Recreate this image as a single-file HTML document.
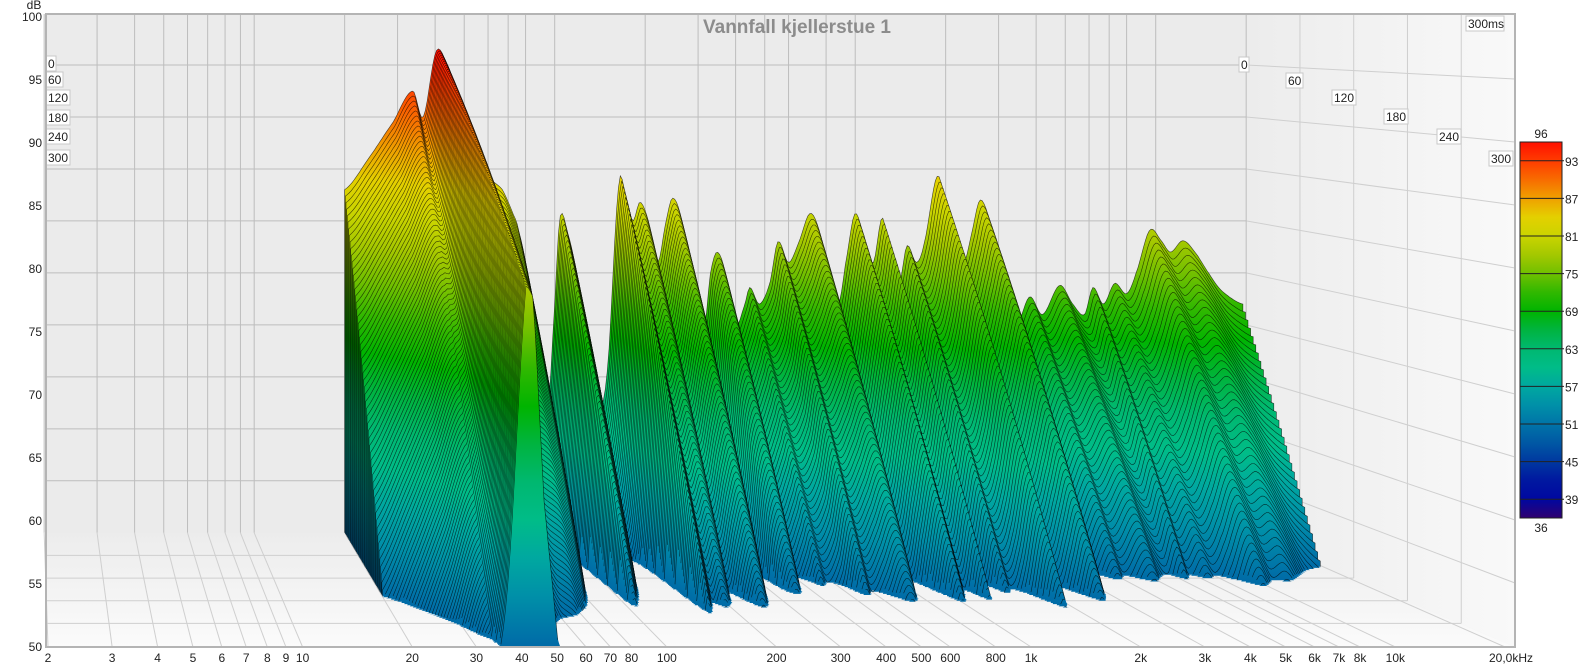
<!DOCTYPE html>
<html><head><meta charset="utf-8"><title>Vannfall kjellerstue 1</title>
<style>
html,body{margin:0;padding:0;background:#fff;}
svg{display:block;font-family:"Liberation Sans",Arial,sans-serif;}
</style></head>
<body>
<svg id="chart" width="1596" height="666" viewBox="0 0 1596 666" xmlns="http://www.w3.org/2000/svg">
<defs>
<linearGradient id="floorGrad" x1="0" y1="0" x2="0" y2="1"><stop offset="0" stop-color="#ececec"/><stop offset="1" stop-color="#fbfbfb"/></linearGradient>
<linearGradient id="sideGrad" x1="0" y1="0" x2="1" y2="0"><stop offset="0" stop-color="#ececec"/><stop offset="1" stop-color="#f9f9f9"/></linearGradient>
<linearGradient id="cbGrad" x1="0" y1="0" x2="0" y2="1"></linearGradient>
</defs>
<g id="bg"></g>
<g id="grid"></g>
<g id="slices"></g>
<g id="labels"></g>
<g id="cbar"></g>
<text x="797" y="33" text-anchor="middle" font-size="19" font-weight="bold" fill="#8c8c8c">Vannfall kjellerstue 1</text>
</svg>
<script>
// ---- data ----
const respFreqs = [20,24,29,33.7,36.5,40.3,44,47,52,55.6,61,67,72,76,82,88,95,100,104,110,120,130,140,150,163,172,182,192,205,220,235,247,265,290,315,330,347,370,400,430,446,480,520,553,600,650,706,760,820,880,930,998,1080,1150,1228,1300,1400,1486,1600,1700,1868,1990,2150,2300,2450,2600,2800,3100,3400,3810,4200,4790,5300,5800,6180,6700,7300,8000,8600,9550,10500,11200,12300,13500,15000,16300,18000,19500];
const respLevels = [83,86,89.5,92.5,90,96.3,95,92.5,88,85,84,83,81,79,74,66,62,72,80.3,79,74,67,62,66,83.2,82.5,80,81.8,80,76,80,82.2,80,74,70,75,77,75,70,72,73.6,72,74,78,76,78,80.7,79,74,72,76,80.7,78,76,80.3,77,74,77.6,76,78,84.2,82,78,76,79,82,80,75,70,72.7,71,73.8,72,71,73.6,72,74,73,75,79.1,78,77,78.1,77,75,73.5,72.5,72];
const decayFreqs = [20,28,34,38,41,43,46,52,60,80,120,200,500,1000,2000,5000,10000,20000];
const decayDb = [58,50,45,30,18,18,32,42,45,45,48,48,50,50,52,55,62,72];
const yTicks = [100,95,90,85,80,75,70,65,60,55,50];
const xTickFreqs = [2,3,4,5,6,7,8,9,10,20,30,40,50,60,70,80,100,200,300,400,500,600,800,1000,2000,3000,4000,5000,6000,7000,8000,10000,20000];
const xTickLabels = ["2","3","4","5","6","7","8","9","10","20","30","40","50","60","70","80","100","200","300","400","500","600","800","1k","2k","3k","4k","5k","6k","7k","8k","10k","20,0kHz"];
const timeLabels = ["0","60","120","180","240","300"];
const cbLabels = [93,87,81,75,69,63,57,51,45,39];

// ---- geometry ----
const NS="http://www.w3.org/2000/svg";
function xf(f){return 48+364.25*Math.log10(f/2);}
function pp(s){return 0.825+0.175*s;}
function X(f,s){return 26+(xf(f)-26)*pp(s);}
function Y(db,s){const yf=646-(db-50)*12.6;return -1+(yf+1)*pp(s);}
function mk(tag,attrs,parent){const e=document.createElementNS(NS,tag);for(const k in attrs)e.setAttribute(k,attrs[k]);parent.appendChild(e);return e;}
function interp(fs,vs,f){const lf=Math.log10(f);if(f<=fs[0])return vs[0];for(let i=1;i<fs.length;i++){if(f<=fs[i]){const a=Math.log10(fs[i-1]),b=Math.log10(fs[i]);const t=(lf-a)/(b-a);return vs[i-1]+(vs[i]-vs[i-1])*t;}}return vs[vs.length-1];}
function smooth(fs,vs,f){const lf=Math.log10(f);if(f<=fs[0])return vs[0];const n=fs.length;
 for(let i=1;i<n;i++){if(f<=fs[i]){const a=Math.log10(fs[i-1]),b=Math.log10(fs[i]);const t=(lf-a)/(b-a);
  const p0=vs[Math.max(i-2,0)],p1=vs[i-1],p2=vs[i],p3=vs[Math.min(i+1,n-1)];
  const t2=t*t,t3=t2*t;
  let v=0.5*((2*p1)+(-p0+p2)*t+(2*p0-5*p1+4*p2-p3)*t2+(-p0+3*p1-3*p2+p3)*t3);
  const lo=Math.min(p1,p2)-1.5,hi=Math.max(p1,p2)+1.5;return Math.max(lo,Math.min(hi,v));}}
 return vs[n-1];}

const cmap=[[96,"#ff1000"],[93,"#ff3c00"],[90,"#f86c00"],[87,"#f0a000"],[84,"#e4d000"],[81,"#cad400"],[78,"#a4c800"],[75,"#70c000"],[72,"#30b800"],[69,"#00b400"],[66,"#00b440"],[63,"#00b870"],[60,"#00bc88"],[57,"#00a8a0"],[54,"#0090a8"],[51,"#0074a8"],[48,"#0058a4"],[45,"#0038a0"],[42,"#0018a0"],[39,"#0008a0"],[36,"#300070"]];

const bg=document.getElementById('bg'),grid=document.getElementById('grid'),sl=document.getElementById('slices'),lab=document.getElementById('labels'),cb=document.getElementById('cbar');
const xR0=X(20000,0), yB=Y(50,0);
mk('rect',{x:46,y:14,width:1469,height:633,fill:'#ebebeb'},bg);
let w=mk('polygon',{points:`${xR0},14 1515,14 1515,647 ${xR0},${yB}`,fill:'url(#sideGrad)'},bg);


let fl=mk('polygon',{points:`46,${yB} ${xR0},${yB} 1515,647 46,647`,fill:'url(#floorGrad)'},bg);


const gc='#bdbdbd';
for(const f of xTickFreqs){const xb=X(f,0);
 if(f<20000){mk('line',{x1:xb,y1:14,x2:xb,y2:yB,stroke:gc,'stroke-width':1},grid);}
 mk('line',{x1:xb,y1:yB,x2:X(f,1),y2:647,stroke:'#cfcfcf','stroke-width':1},grid);}
for(const db of [55,60,65,70,75,80,85,90,95]){const y0=Y(db,0);
 mk('line',{x1:46,y1:y0,x2:xR0,y2:y0,stroke:gc,'stroke-width':1},grid);
 mk('line',{x1:xR0,y1:y0,x2:1515,y2:Y(db,1),stroke:'#cfcfcf','stroke-width':1},grid);}
for(const s of [0.2,0.4,0.6,0.8]){const y=Y(50,s);const xr=xR0+(1515-xR0)*s;
 mk('line',{x1:46,y1:y,x2:xr,y2:y,stroke:'#cfcfcf','stroke-width':1},grid);
 mk('line',{x1:xr,y1:14,x2:xr,y2:y,stroke:'#cfcfcf','stroke-width':1},grid);}
mk('line',{x1:xR0,y1:14,x2:xR0,y2:yB,stroke:gc,'stroke-width':1},grid);

const defs=document.querySelector('defs');
const NF=480,NSL=100;
const fmin=respFreqs[0],fmax=respFreqs[respFreqs.length-1];
const freqGrid=[];for(let i=0;i<NF;i++){freqGrid.push(fmin*Math.pow(fmax/fmin,i/(NF-1)));}
const L0=freqGrid.map(f=>smooth(respFreqs,respLevels,f));
const R=freqGrid.map(f=>interp(decayFreqs,decayDb,f));
for(let k=0;k<=NSL;k++){
 const s=k/NSL;
 const gid='sg'+k;
 const g=mk('linearGradient',{id:gid,gradientUnits:'userSpaceOnUse',x1:0,x2:0,y1:Y(96,s),y2:Y(36,s)},defs);
 for(const [db,c] of cmap){mk('stop',{offset:((96-db)/60).toFixed(3),'stop-color':c},g);}
 let fillD='',strokeD='',any=false,pen=false;
 const fb=Y(50,s);
 for(let i=0;i<NF;i++){
  const L=L0[i]-R[i]*s;const x=X(freqGrid[i],s).toFixed(1);
  const y=(L>50?Y(L,s):fb).toFixed(1);
  if(i===0)fillD+=`M${x},${fb.toFixed(1)}L${x},${y}`;else fillD+=`L${x},${y}`;
  if(L>50){any=true;
   if(!pen){strokeD+=(i===0?`M${x},${fb.toFixed(1)}L${x},${y}`:`M${x},${y}`);pen=true;}else strokeD+=`L${x},${y}`;
   if(i===NF-1)strokeD+=`L${x},${fb.toFixed(1)}`;
  } else pen=false;
 }
 if(!any)continue;
 fillD+=`L${X(fmax,s).toFixed(1)},${fb.toFixed(1)}Z`;
 const pf=mk('path',{d:fillD,fill:`url(#${gid})`},sl);
 
 
 const ps=mk('path',{d:strokeD,fill:'none',stroke:'#000','stroke-opacity':0.7,'stroke-width':0.6},sl);
 
 
}

for(const db of yTicks){const t=mk('text',{x:42,y:646-(db-50)*12.6+5,'text-anchor':'end','font-size':12,fill:'#222'},lab);t.textContent=db;
 
 }
let dbT=mk('text',{x:34,y:9,'text-anchor':'middle','font-size':12,fill:'#222'},lab);dbT.textContent='dB';


xTickFreqs.forEach((f,i)=>{const t=mk('text',{x:(i===xTickFreqs.length-1?1511:xf(f)),y:662,'text-anchor':'middle','font-size':12,fill:'#222'},lab);t.textContent=xTickLabels[i];
 
 });
function box(x,y,txt,name){const tw=txt.length*7+3;
 const r=mk('rect',{x:x,y:y,width:tw,height:15,fill:'#fff',stroke:'#c8c8c8','stroke-width':1},lab);
 
 
 const t=mk('text',{x:x+2,y:y+12,'font-size':12,fill:'#222'},lab);t.textContent=txt;
 
 }
const leftY=[56,72,90,110,129,150];
const rightPos=[[1239,57],[1286,73],[1332,90],[1384,109],[1437,129],[1489,151]];
timeLabels.forEach((tl,i)=>{box(46,leftY[i],tl,'time-label-left');box(rightPos[i][0],rightPos[i][1],tl,'time-label-right');});
box(1466,16,'300ms','time-range-label');
const fr=mk('rect',{x:46,y:14,width:1469,height:633,fill:'none',stroke:'#b4b4b4','stroke-width':2},lab);



const cg=document.getElementById('cbGrad');
for(const [db,c] of cmap){mk('stop',{offset:((96-db)/60).toFixed(3),'stop-color':c},cg);}
const cbTop=142,cbBot=518,cbX=1520,cbW=42;
const cr=mk('rect',{x:cbX,y:cbTop,width:cbW,height:cbBot-cbTop,fill:'url(#cbGrad)',stroke:'#222','stroke-width':1},cb);


const pxdb=(cbBot-cbTop)/60;
for(const v of cbLabels){const y=cbTop+(96-v)*pxdb;
 mk('line',{x1:cbX,y1:y,x2:cbX+cbW+2,y2:y,stroke:'#222','stroke-width':1},cb);
 const t=mk('text',{x:cbX+cbW+3,y:y+5,'font-size':12,fill:'#222'},cb);t.textContent=v;
 
 }
let t96=mk('text',{x:cbX+cbW/2,y:cbTop-4,'text-anchor':'middle','font-size':12,fill:'#222'},cb);t96.textContent='96';


let t36=mk('text',{x:cbX+cbW/2,y:cbBot+14,'text-anchor':'middle','font-size':12,fill:'#222'},cb);t36.textContent='36';


</script>
</body></html>
